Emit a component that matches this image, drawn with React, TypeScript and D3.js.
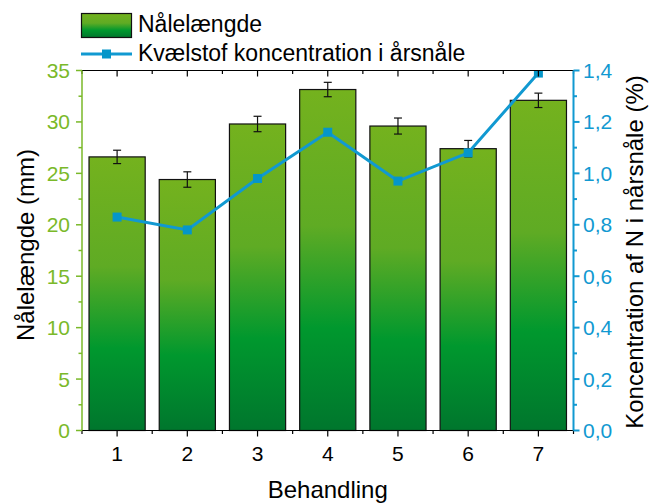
import React from "react";
import * as d3 from "d3";

const categories = [1, 2, 3, 4, 5, 6, 7];
const needleLength = [26.6, 24.4, 29.8, 33.15, 29.6, 27.4, 32.1];
const needleErr = [0.65, 0.75, 0.75, 0.7, 0.78, 0.8, 0.7];
const nConc = [0.83, 0.78, 0.98, 1.16, 0.97, 1.08, 1.39];
const leftTicks = [0, 5, 10, 15, 20, 25, 30, 35];
const rightTicks = [0, 0.2, 0.4, 0.6, 0.8, 1.0, 1.2, 1.4];

const W = 651, H = 504;
const L = 82, R = 573.5, T = 70.5, B = 430.5;
const GREEN = "#7ab929";
const BLUE = "#1199d1";
const FONT = "Liberation Sans, Arial, sans-serif";

export default function App() {
  const x = d3.scaleLinear().domain([0.5, 7.5]).range([L, R]);
  const yL = d3.scaleLinear().domain([0, 35]).range([B, T]);
  const yR = d3.scaleLinear().domain([0, 1.4]).range([B, T]);
  const bw = (x(1) - x(0)) * 0.8;
  const line = d3.line<number>().x((_, i) => x(categories[i])).y((d) => yR(d));
  const minorX = d3.range(0.5, 7.51, 0.5);
  const minorL = d3.range(0, 35.01, 2.5);
  const minorR = d3.range(0, 1.401, 0.1);
  const fmt = (v: number) => v.toFixed(1).replace(".", ",");
  return (
    <svg width={W} height={H} style={{ position: "absolute", left: 0, top: 0 }} fontFamily={FONT}>
      <defs>
        <linearGradient id="g" x1="0" y1="0" x2="0" y2="1">
          <stop offset="0" stopColor="#74b21e" />
          <stop offset="0.4" stopColor="#5fab24" />
          <stop offset="0.7" stopColor="#00982e" />
          <stop offset="1" stopColor="#00762d" />
        </linearGradient>
        <clipPath id="clip">
          <rect x={L} y={T} width={R - L} height={B - T} />
        </clipPath>
      </defs>
      {/* bars */}
      {categories.map((c, i) => (
        <rect key={c} x={x(c) - bw / 2} y={yL(needleLength[i])} width={bw}
          height={B - yL(needleLength[i])} fill="url(#g)" stroke="#111" strokeWidth={1.2} />
      ))}
      {/* error bars */}
      {categories.map((c, i) => {
        const y1 = yL(needleLength[i] + needleErr[i]);
        const y2 = yL(needleLength[i] - needleErr[i]);
        return (
          <g key={c} stroke="#111" strokeWidth={1.2}>
            <line x1={x(c)} x2={x(c)} y1={y1} y2={y2} />
            <line x1={x(c) - 4} x2={x(c) + 4} y1={y1} y2={y1} />
            <line x1={x(c) - 4} x2={x(c) + 4} y1={y2} y2={y2} />
          </g>
        );
      })}
      {/* line series */}
      <g clipPath="url(#clip)">
        <path d={line(nConc) || ""} fill="none" stroke={BLUE} strokeWidth={3} />
        {categories.map((c, i) => (
          <rect key={c} x={x(c) - 4.5} y={yR(nConc[i]) - 4.5} width={9} height={9} fill="#0596c9" />
        ))}
      </g>
      {/* top axis */}
      <line x1={L} x2={R} y1={T} y2={T} stroke="#000" strokeWidth={1.2} />
      {minorX.map((v) => (
        <line key={v} x1={x(v)} x2={x(v)} y1={T} y2={T + (Number.isInteger(v) ? 6 : 3.5)} stroke="#000" strokeWidth={1.2} />
      ))}
      {/* bottom axis */}
      <line x1={L} x2={R} y1={B} y2={B} stroke="#000" strokeWidth={1.2} />
      {minorX.map((v) => (
        <line key={v} x1={x(v)} x2={x(v)} y1={B} y2={B + (Number.isInteger(v) ? 6 : 3.5)} stroke="#000" strokeWidth={1.2} />
      ))}
      {categories.map((c) => (
        <text key={c} x={x(c)} y={461} textAnchor="middle" fontSize={21}>{c}</text>
      ))}
      {/* left axis */}
      <line x1={L} x2={L} y1={T} y2={B} stroke={GREEN} strokeWidth={1.5} />
      {minorL.map((v) => (
        <line key={v} x1={L} x2={L - (v % 5 === 0 ? 6 : 3.5)} y1={yL(v)} y2={yL(v)} stroke={GREEN} strokeWidth={1.5} />
      ))}
      {leftTicks.map((v) => (
        <text key={v} x={70} y={yL(v) + 7.5} textAnchor="end" fontSize={21} fill={GREEN}>{v}</text>
      ))}
      {/* right axis */}
      <line x1={R} x2={R} y1={T} y2={B} stroke={BLUE} strokeWidth={2} />
      {minorR.map((v, i) => (
        <line key={i} x1={R} x2={R + (i % 2 === 0 ? 6 : 3.5)} y1={yR(v)} y2={yR(v)} stroke={BLUE} strokeWidth={2} />
      ))}
      {rightTicks.map((v) => (
        <text key={v} x={583} y={yR(v) + 7.5} textAnchor="start" fontSize={21} fill={BLUE}>{fmt(v)}</text>
      ))}
      {/* axis titles */}
      <text transform={`translate(34,245) rotate(-90)`} textAnchor="middle" fontSize={24}>Nålelængde (mm)</text>
      <text transform={`translate(643,252) rotate(-90)`} textAnchor="middle" fontSize={24}>Koncentration af N i nårsnåle (%)</text>
      <text x={(L + R) / 2} y={498} textAnchor="middle" fontSize={24}>Behandling</text>
      {/* legend */}
      <rect x={81.5} y={13.5} width={50} height={24} fill="url(#g)" stroke="#111" strokeWidth={1.2} />
      <text x={138} y={32} fontSize={23}>Nålelængde</text>
      <line x1={81} x2={132} y1={54} y2={54} stroke={BLUE} strokeWidth={3} />
      <rect x={102} y={49.5} width={9} height={9} fill="#0596c9" />
      <text x={138} y={61} fontSize={23}>Kvælstof koncentration i årsnåle</text>
    </svg>
  );
}
